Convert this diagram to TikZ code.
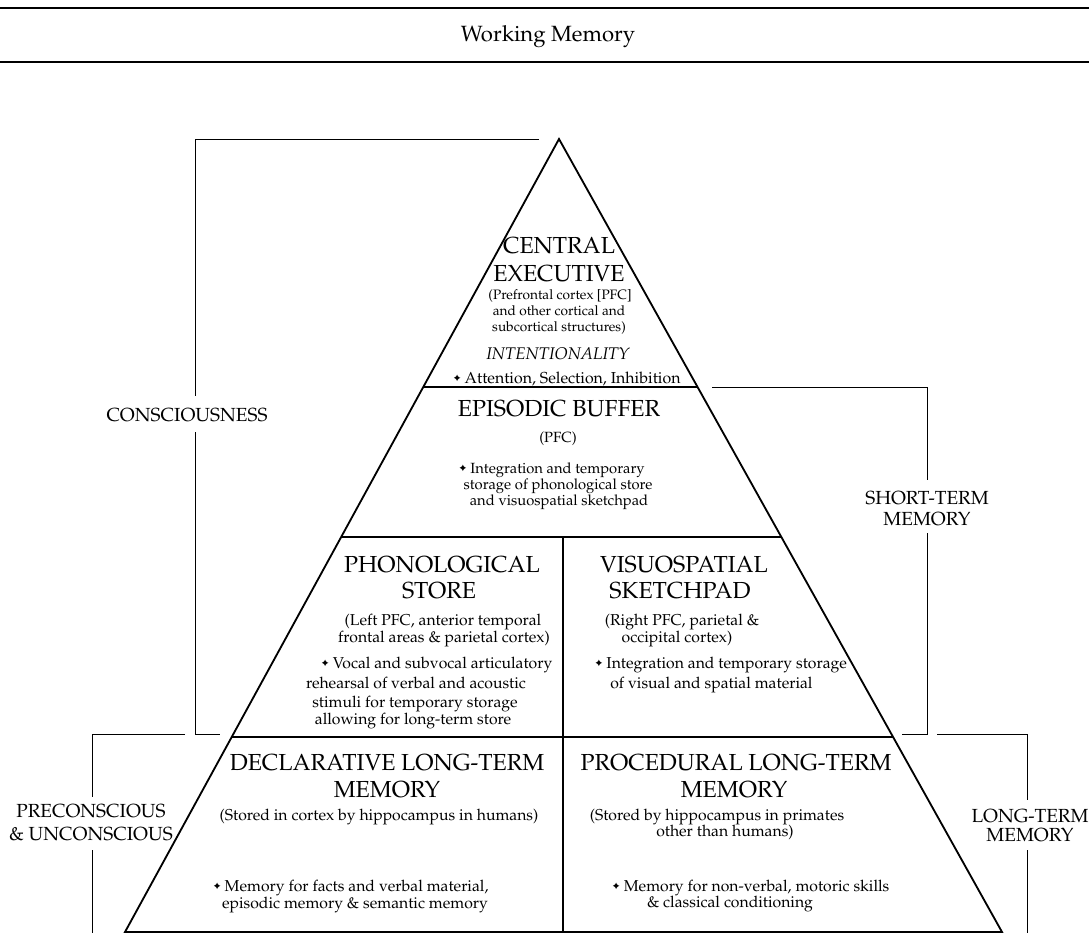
\documentclass[tikz,border=0pt]{standalone}
\usepackage[T1]{fontenc}
\usepackage{mathpazo}
\usepackage{pifont}
\usetikzlibrary{calc}

\newcommand{\starb}{\raisebox{0.15ex}{\fontsize{6.5}{6.5}\selectfont\ding{70}}\ }

\tikzset{
  every node/.style={inner sep=0pt, anchor=base},
  tri/.style={line width=1.3pt, line join=miter},
  brk/.style={line width=0.7pt},
  rule/.style={line width=0.8pt},
  hd/.style={font=\fontsize{16.5}{19}\selectfont},
  sd/.style={font=\fontsize{13.5}{16}\selectfont},
  tx/.style={font=\fontsize{11.2}{13}\selectfont},
  eb/.style={font=\fontsize{10.5}{12}\selectfont},
  cs/.style={font=\fontsize{9.7}{11}\selectfont},
}

\begin{document}
\begin{tikzpicture}[x=0.025cm, y=-0.025cm]
  \useasboundingbox (0,0) rectangle (1089,933);

  % title between two rules
  \draw [rule] (0,8) -- (1089,8);
  \draw [rule] (0,62) -- (1089,62);
  \node [font=\fontsize{15.7}{18}\selectfont] (title) at (548,42) {Working Memory};

  % the pyramid
  \coordinate (apex) at (559,139);
  \coordinate (bl) at (125,932);
  \coordinate (br) at (1002,932);
  \draw [tri] (apex) -- (bl) -- (br) -- cycle;
  \draw [tri] ($(apex)!0.3127!(bl)$) -- ($(apex)!0.3127!(br)$);
  \draw [tri] ($(apex)!0.5019!(bl)$) -- ($(apex)!0.5019!(br)$);
  \draw [tri] ($(apex)!0.7541!(bl)$) -- ($(apex)!0.7541!(br)$);
  \draw [tri] (563,537) -- (563,932);

  % central executive
  \node [hd] (ce1) at (559,253) {CENTRAL};
  \node [hd] (ce2) at (559,281) {EXECUTIVE};
  \node [cs] (ce3) at (560,299) {(Prefrontal cortex [PFC]};
  \node [cs] (ce4) at (559,315) {and other cortical and};
  \node [cs] (ce5) at (559,331) {subcortical structures)};
  \node [font=\fontsize{12}{14}\selectfont\itshape] (ce6) at (558,359) {INTENTIONALITY};
  \node [font=\fontsize{11.3}{13}\selectfont] (ce7) at (567,383) {\starb Attention, Selection, Inhibition};

  % episodic buffer
  \node [hd] (eb1) at (559,416) {EPISODIC BUFFER};
  \node [eb] (eb2) at (558,442) {(PFC)};
  \node [eb] (eb3) at (552,473) {\starb Integration and temporary};
  \node [eb] (eb4) at (558,489) {storage of phonological store};
  \node [eb] (eb5) at (559,505) {and visuospatial sketchpad};

  % phonological store
  \node [hd] (ph1) at (442,572) {PHONOLOGICAL};
  \node [hd] (ph2) at (439,598) {STORE};
  \node [tx] (ph3) at (443,625) {(Left PFC, anterior temporal};
  \node [tx] (ph4) at (444,642) {frontal areas \& parietal cortex)};
  \node [tx] (ph5) at (437,668) {\starb Vocal and subvocal articulatory};
  \node [tx] (ph6) at (416,688) {rehearsal of verbal and acoustic};
  \node [tx] (ph7) at (415,707) {stimuli for temporary storage};
  \node [tx] (ph8) at (413,724) {allowing for long-term store};

  % visuospatial sketchpad
  \node [hd] (vs1) at (684,572) {VISUOSPATIAL};
  \node [hd] (vs2) at (680,598) {SKETCHPAD};
  \node [tx] (vs3) at (682,625) {(Right PFC, parietal \&};
  \node [tx] (vs4) at (677,642) {occipital cortex)};
  \node [tx, anchor=base west] (vs5) at (595,668) {\starb Integration and temporary storage};
  \node [tx, anchor=base west] (vs6) at (610,688) {of visual and spatial material};

  % declarative long-term memory
  \node [hd] (dl1) at (387,770) {DECLARATIVE LONG-TERM};
  \node [hd] (dl2) at (387,797) {MEMORY};
  \node [tx] (dl3) at (379,820) {(Stored in cortex by hippocampus in humans)};
  \node [tx] (dl4) at (351,891) {\starb Memory for facts and verbal material,};
  \node [tx] (dl5) at (355,908) {episodic memory \& semantic memory};

  % procedural long-term memory
  \node [hd] (pl1) at (736,770) {PROCEDURAL LONG-TERM};
  \node [hd] (pl2) at (734,797) {MEMORY};
  \node [tx] (pl3) at (717,820) {(Stored by hippocampus in primates};
  \node [tx] (pl4) at (725,836) {other than humans)};
  \node [tx] (pl5) at (751,891) {\starb Memory for non-verbal, motoric skills};
  \node [tx] (pl6) at (730,907) {\& classical conditioning};

  % side brackets
  \node [sd] (cons) at (187,421) {CONSCIOUSNESS};
  \draw [brk] (539,139) -- (195,139) -- (195,396);
  \draw [brk] (195,432) -- (195,734) -- (220,734);

  \node [sd, align=center] (stm) at (927,525) {SHORT-TERM\\[-1.5pt]MEMORY};
  \draw [brk] (712,387) -- (927,387) -- (927,480);
  \draw [brk] (927,533) -- (927,734) -- (902,734);

  \node [sd, align=center] (pre) at (91,840) {PRECONSCIOUS\\\& UNCONSCIOUS};
  \draw [brk] (185,734) -- (92,734) -- (92,797);
  \draw [brk] (92,850) -- (92,933);

  \node [sd, align=center] (ltm) at (1030,841) {LONG-TERM\\[-2.5pt]MEMORY};
  \draw [brk] (937,734) -- (1027,734) -- (1027,800);
  \draw [brk] (1027,850) -- (1027,933);
\end{tikzpicture}
\end{document}
